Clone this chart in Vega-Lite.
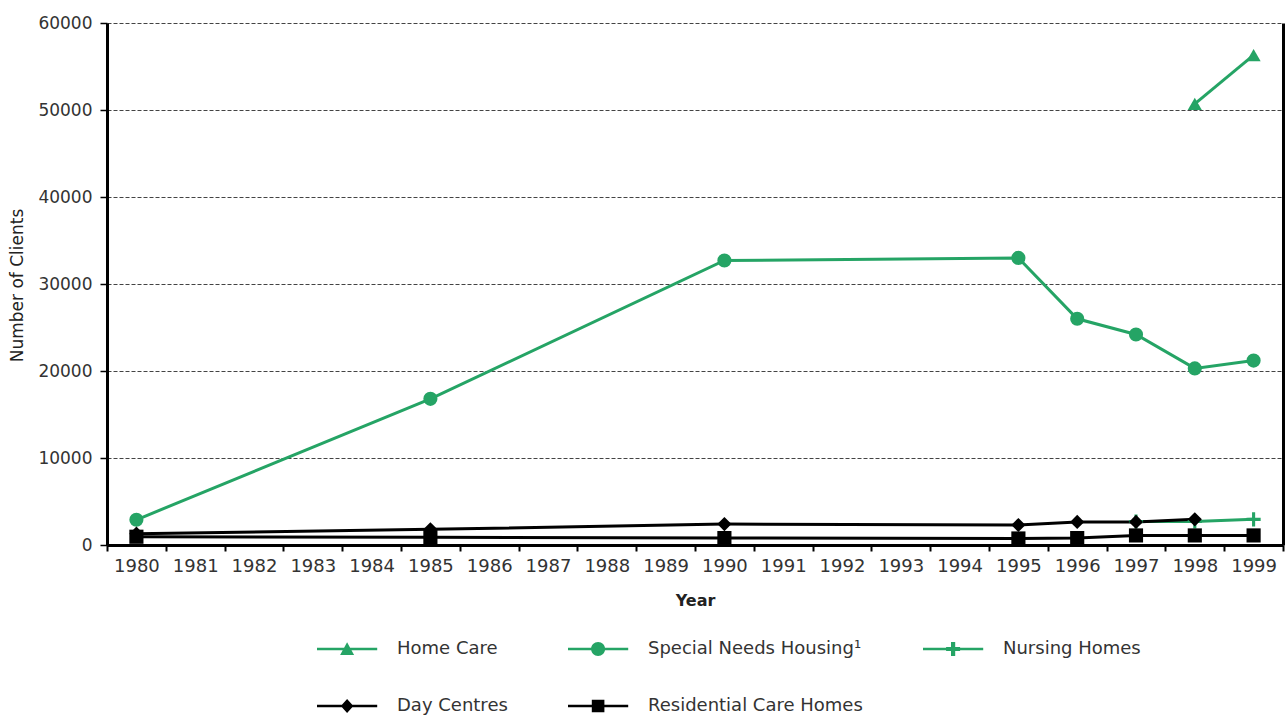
{
  "$schema": "https://vega.github.io/schema/vega-lite/v6.json",
  "autosize": {"type": "none"},
  "width": 1176,
  "height": 522,
  "padding": {"left": 107, "top": 23, "right": 5, "bottom": 170},
  "background": "white",
  "config": {
    "font": "DejaVu Sans",
    "view": {"stroke": null},
    "axis": {"labelFont": "DejaVu Sans", "labelFontSize": 17, "labelColor": "#333", "titleFont": "DejaVu Sans", "titleColor": "#222"},
    "legend": {"labelFont": "DejaVu Sans", "labelFontSize": 18, "labelColor": "#333", "labelLimit": 500}
  },
  "data": {
    "values": [
      {"year": 1998, "series": "Home Care", "value": 50700},
      {"year": 1999, "series": "Home Care", "value": 56300},
      {"year": 1980, "series": "Special Needs Housing¹", "value": 2900},
      {"year": 1985, "series": "Special Needs Housing¹", "value": 16800},
      {"year": 1990, "series": "Special Needs Housing¹", "value": 32700},
      {"year": 1995, "series": "Special Needs Housing¹", "value": 33000},
      {"year": 1996, "series": "Special Needs Housing¹", "value": 26000},
      {"year": 1997, "series": "Special Needs Housing¹", "value": 24200},
      {"year": 1998, "series": "Special Needs Housing¹", "value": 20300},
      {"year": 1999, "series": "Special Needs Housing¹", "value": 21200},
      {"year": 1997, "series": "Nursing Homes", "value": 2700},
      {"year": 1998, "series": "Nursing Homes", "value": 2700},
      {"year": 1999, "series": "Nursing Homes", "value": 2950},
      {"year": 1980, "series": "Day Centres", "value": 1300},
      {"year": 1985, "series": "Day Centres", "value": 1800},
      {"year": 1990, "series": "Day Centres", "value": 2400},
      {"year": 1995, "series": "Day Centres", "value": 2300},
      {"year": 1996, "series": "Day Centres", "value": 2650},
      {"year": 1997, "series": "Day Centres", "value": 2650},
      {"year": 1998, "series": "Day Centres", "value": 2950},
      {"year": 1980, "series": "Residential Care Homes", "value": 950},
      {"year": 1985, "series": "Residential Care Homes", "value": 900},
      {"year": 1990, "series": "Residential Care Homes", "value": 800},
      {"year": 1995, "series": "Residential Care Homes", "value": 750},
      {"year": 1996, "series": "Residential Care Homes", "value": 800},
      {"year": 1997, "series": "Residential Care Homes", "value": 1100},
      {"year": 1998, "series": "Residential Care Homes", "value": 1100},
      {"year": 1999, "series": "Residential Care Homes", "value": 1100}
    ]
  },
  "encoding": {
    "x": {
      "field": "year",
      "type": "ordinal",
      "scale": {"type": "band", "domain": [1980,1981,1982,1983,1984,1985,1986,1987,1988,1989,1990,1991,1992,1993,1994,1995,1996,1997,1998,1999], "paddingInner": 0, "paddingOuter": 0},
      "axis": {"title": "Year", "titleFontWeight": "bold", "titleFontSize": 16, "titlePadding": 17, "labelAngle": 0, "labelFontSize": 18, "tickBand": "extent", "tickSize": 6, "tickColor": "#000", "tickWidth": 2, "labelPadding": 6, "domainColor": "#000", "domainWidth": 3, "grid": false}
    },
    "color": {
      "field": "series",
      "type": "nominal",
      "scale": {"domain": ["Home Care", "Special Needs Housing¹", "Nursing Homes", "Day Centres", "Residential Care Homes"], "range": ["#25a465", "#25a465", "#25a465", "#000000", "#000000"]}
    }
  },
  "layer": [
    {
      "mark": {"type": "line", "strokeWidth": 3},
      "encoding": {
        "y": {
          "field": "value",
          "type": "quantitative",
          "scale": {"domain": [0, 60000]},
          "axis": {"title": "Number of Clients", "titleFontSize": 17, "titleFontWeight": "normal", "titleX": -81, "titleY": 262, "values": [0,10000,20000,30000,40000,50000,60000], "format": "d", "tickSize": 7, "tickColor": "#000", "tickWidth": 1.5, "labelPadding": 8, "domainColor": "#000", "domainWidth": 3, "grid": true, "gridColor": "#444", "gridDash": [4, 2], "gridWidth": 1.2}
        },
        "color": {
          "field": "series",
          "type": "nominal",
          "legend": {
            "orient": "none",
            "legendX": 208,
            "legendY": 617,
            "direction": "horizontal",
            "columns": 3,
            "title": null,
            "symbolSize": 196,
            "labelOffset": 64,
            "columnPadding": 58,
            "rowPadding": 39,
            "labelFontSize": 18,
            "labelLimit": 500,
            "encode": {
              "symbols": {
                "update": {
                  "shape": {"signal": "datum.value === 'Home Care' ? 'M-1,-0.18H7.6V0.18H-1Z M2.3,0.85L3.3,-0.95L4.3,0.85Z' : datum.value === 'Special Needs Housing¹' ? 'M-1,-0.18H7.6V0.18H-1Z M2.3,0A1,1 0 1,1 4.3,0A1,1 0 1,1 2.3,0Z' : datum.value === 'Nursing Homes' ? 'M-1,-0.18H7.6V0.18H-1Z M3.0,-1H3.6V-0.3H4.3V0.3H3.6V1H3.0V0.3H2.3V-0.3H3.0Z' : datum.value === 'Day Centres' ? 'M-1,-0.18H7.6V0.18H-1Z M3.3,-1L4.2,0L3.3,1L2.4,0Z' : 'M-1,-0.18H7.6V0.18H-1Z M2.4,-0.9H4.2V0.9H2.4Z'"},
                  "fill": {"scale": "color", "field": "value"},
                  "strokeWidth": {"value": 0},
                  "opacity": {"value": 1}
                }
              }
            }
          }
        }
      }
    },
    {
      "mark": {"type": "point", "filled": true, "size": 200, "opacity": 1},
      "encoding": {
        "y": {
          "field": "value",
          "type": "quantitative",
          "scale": {"domain": [0, 60000]},
          "axis": {"orient": "right", "title": null, "labels": false, "ticks": false, "grid": false, "domainColor": "#000", "domainWidth": 3}
        },
        "shape": {
          "field": "series",
          "type": "nominal",
          "scale": {"domain": ["Residential Care Homes", "Day Centres", "Nursing Homes", "Special Needs Housing¹", "Home Care"], "range": ["square", "diamond", "M-1,-0.22H-0.22V-1H0.22V-0.22H1V0.22H0.22V1H-0.22V0.22H-1Z", "circle", "triangle-up"]},
          "legend": null
        }
      }
    }
  ],
  "resolve": {"axis": {"y": "independent"}}
}
